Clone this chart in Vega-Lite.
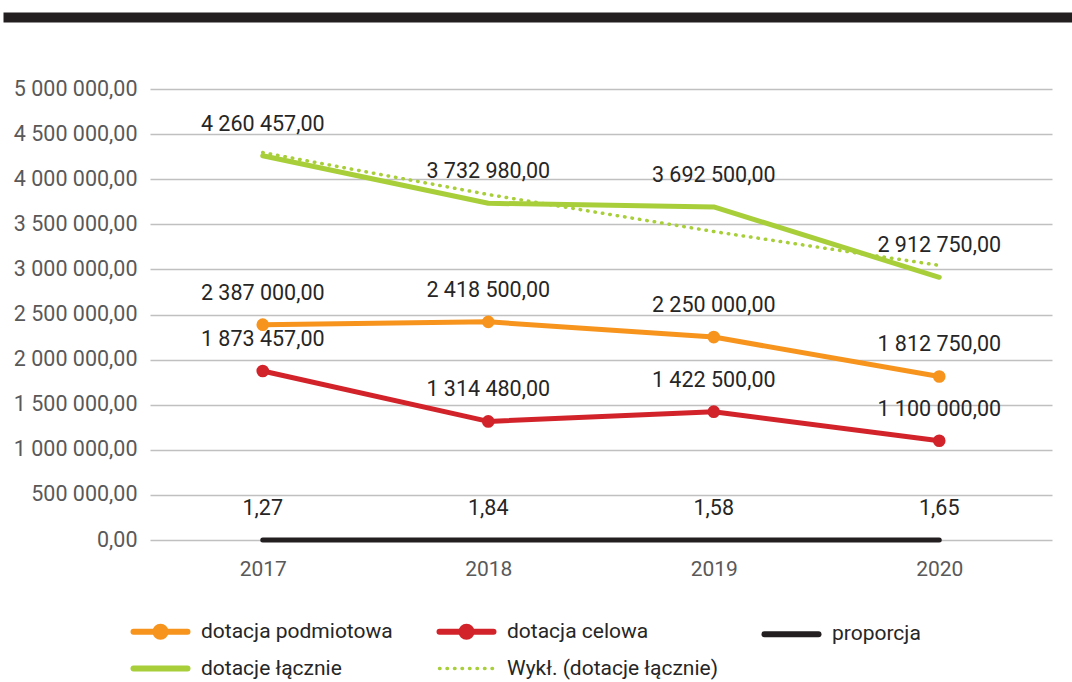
{
  "$schema": "https://vega.github.io/schema/vega-lite/v6.json",
  "padding": {"top": 12, "left": 0, "right": 0, "bottom": 0},
  "background": "white",
  "config": {
    "font": "Roboto",
    "locale": {"number": {"decimal": ",", "thousands": " ", "grouping": [3], "currency": ["", ""]}},
    "view": {"stroke": null}
  },
  "spacing": 56,
  "vconcat": [
    {
      "width": 922,
      "height": 10,
      "data": {"values": [{"a": 0}]},
      "mark": {"type": "point", "opacity": 0},
      "encoding": {
        "x": {
          "field": "a", "type": "quantitative",
          "scale": {"domain": [0, 1], "range": [-147, 922]},
          "axis": {"orient": "top", "offset": -5, "domain": true, "domainWidth": 10, "domainColor": "#231f20", "domainCap": "butt", "ticks": false, "labels": false, "grid": false, "title": null}
        }
      }
    },
    {
      "hconcat": [
        {
          "width": 902,
          "height": 451,
          "data": {
            "values": [
              {"year": "2017", "series": "dotacja podmiotowa", "value": 2387000},
              {"year": "2018", "series": "dotacja podmiotowa", "value": 2418500},
              {"year": "2019", "series": "dotacja podmiotowa", "value": 2250000},
              {"year": "2020", "series": "dotacja podmiotowa", "value": 1812750},
              {"year": "2017", "series": "dotacja celowa", "value": 1873457},
              {"year": "2018", "series": "dotacja celowa", "value": 1314480},
              {"year": "2019", "series": "dotacja celowa", "value": 1422500},
              {"year": "2020", "series": "dotacja celowa", "value": 1100000},
              {"year": "2017", "series": "proporcja", "value": 1.27},
              {"year": "2018", "series": "proporcja", "value": 1.84},
              {"year": "2019", "series": "proporcja", "value": 1.58},
              {"year": "2020", "series": "proporcja", "value": 1.65},
              {"year": "2017", "series": "dotacje łącznie", "value": 4260457},
              {"year": "2018", "series": "dotacje łącznie", "value": 3732980},
              {"year": "2019", "series": "dotacje łącznie", "value": 3692500},
              {"year": "2020", "series": "dotacje łącznie", "value": 2912750},
              {"year": "2017", "series": "Wykł. (dotacje łącznie)", "value": 4295000},
              {"year": "2018", "series": "Wykł. (dotacje łącznie)", "value": 3830000},
              {"year": "2019", "series": "Wykł. (dotacje łącznie)", "value": 3420000},
              {"year": "2020", "series": "Wykł. (dotacje łącznie)", "value": 3045000}
            ]
          },
          "encoding": {
            "x": {
              "field": "year", "type": "ordinal",
              "scale": {"type": "point", "padding": 0.5},
              "axis": {"title": null, "domain": false, "ticks": false, "labelAngle": 0, "labelFontSize": 21, "labelColor": "#595959", "labelPadding": 18}
            },
            "y": {
              "field": "value", "type": "quantitative",
              "scale": {"domain": [0, 5000000], "nice": false, "zero": true},
              "axis": {
                "title": " ", "titleX": -150, "titleY": 0, "titleFontSize": 1, "titleAngle": 0, "titleAlign": "left",
                "domain": false, "ticks": false, "labelPadding": 13, "labelFontSize": 21.5, "labelColor": "#595959",
                "gridColor": "#c0c0c0", "gridWidth": 1.5, "format": ",.2f",
                "values": [0, 500000, 1000000, 1500000, 2000000, 2500000, 3000000, 3500000, 4000000, 4500000, 5000000]
              }
            },
            "color": {
              "field": "series", "type": "nominal",
              "scale": {
                "domain": ["dotacja podmiotowa", "dotacja celowa", "proporcja", "dotacje łącznie", "Wykł. (dotacje łącznie)"],
                "range": ["#f7941d", "#d2232a", "#231f20", "#a8cf3a", "#a8cf3a"]
              },
              "legend": {
                "title": null,
                "orient": "bottom",
                "direction": "horizontal",
                "columns": 3,
                "columnPadding": 34,
                "rowPadding": 7,
                "symbolSize": 400,
                "labelOffset": 30,
                "labelFontSize": 21,
                "labelColor": "#262626",
                "labelLimit": 400,
                "padding": 0,
                "offset": 42,
                "encode": {
                  "symbols": {
                    "update": {
                      "shape": {"signal": "datum.value == 'dotacja podmiotowa' || datum.value == 'dotacja celowa' ? 'M-2.7,0H2.7M-0.5,0A0.5,0.5 0 1,0 0.5,0A0.5,0.5 0 1,0 -0.5,0' : 'M-2.7,0H2.7'"},
                      "fill": {"signal": "datum.value == 'dotacja podmiotowa' ? '#f7941d' : datum.value == 'dotacja celowa' ? '#d2232a' : datum.value == 'proporcja' ? '#231f20' : '#a8cf3a'"},
                      "stroke": {"signal": "datum.value == 'dotacja podmiotowa' ? '#f7941d' : datum.value == 'dotacja celowa' ? '#d2232a' : datum.value == 'proporcja' ? '#231f20' : '#a8cf3a'"},
                      "strokeWidth": {"signal": "datum.value == 'Wykł. (dotacje łącznie)' ? 3.5 : 6"},
                      "strokeDash": {"signal": "datum.value == 'Wykł. (dotacje łącznie)' ? [0.5, 7] : []"},
                      "strokeCap": {"value": "round"},
                      "opacity": {"value": 1},
                      "fillOpacity": {"value": 1},
                      "strokeOpacity": {"value": 1}
                    }
                  }
                }
              }
            }
          },
          "layer": [
            {
              "transform": [{"filter": "datum.series != 'Wykł. (dotacje łącznie)'"}],
              "mark": {"type": "line", "strokeCap": "round", "strokeJoin": "round"},
              "encoding": {
                "strokeWidth": {
                  "field": "series", "type": "nominal", "legend": null,
                  "scale": {"domain": ["dotacja podmiotowa", "dotacja celowa", "proporcja", "dotacje łącznie"], "range": [5, 5, 6, 6]}
                }
              }
            },
            {
              "transform": [{"filter": "datum.series == 'Wykł. (dotacje łącznie)'"}],
              "mark": {"type": "line", "strokeCap": "round", "strokeDash": [0.5, 7], "strokeWidth": 3.5}
            },
            {
              "transform": [{"filter": "datum.series == 'dotacja podmiotowa' || datum.series == 'dotacja celowa'"}],
              "mark": {"type": "point", "filled": true, "size": 160, "opacity": 1}
            },
            {
              "transform": [{"filter": "datum.series != 'Wykł. (dotacje łącznie)'"}],
              "mark": {"type": "text", "dy": -31, "fontSize": 21.5, "align": "center", "baseline": "middle"},
              "encoding": {
                "text": {"field": "value", "type": "quantitative", "format": ",.2f"},
                "color": {"value": "#262626"}
              }
            }
          ]
        }
      ]
    }
  ]
}
